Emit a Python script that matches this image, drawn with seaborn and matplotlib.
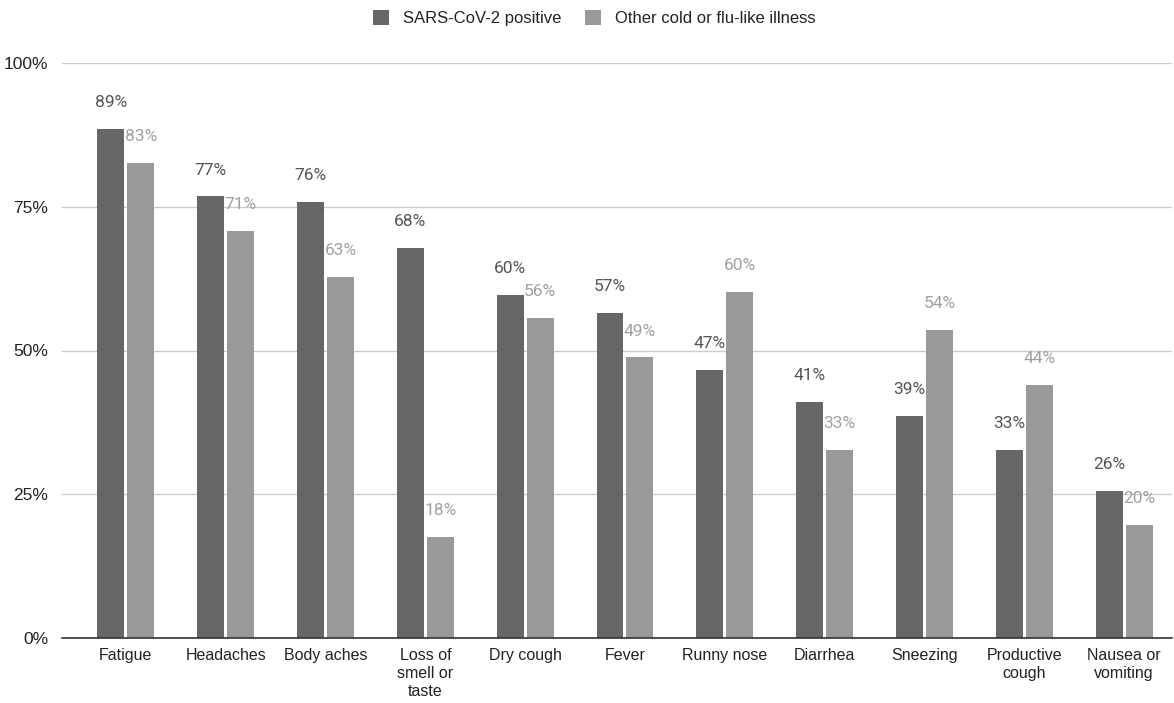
import matplotlib
matplotlib.use("Agg")
import matplotlib.pyplot as plt
import seaborn as sns
import pandas as pd
from matplotlib.patches import Patch

categories = ["Fatigue", "Headaches", "Body aches", "Loss of\nsmell or\ntaste", "Dry cough",
              "Fever", "Runny nose", "Diarrhea", "Sneezing", "Productive\ncough", "Nausea or\nvomiting"]
sars_values = [88.6, 76.8, 75.8, 67.8, 59.7, 56.6, 46.6, 41.1, 38.6, 32.7, 25.6]
other_values = [82.6, 70.8, 62.8, 17.6, 55.7, 48.8, 60.2, 32.7, 53.6, 44.0, 19.6]
series_names = ["SARS-CoV-2 positive", "Other cold or flu-like illness"]
y_ticks = [0, 25, 50, 75, 100]
y_tick_labels = ["0%", "25%", "50%", "75%", "100%"]

colors = ["#666666", "#999999"]
label_colors = ["#555555", "#a0a0a0"]

df = pd.DataFrame({
    "category": categories * 2,
    "value": sars_values + other_values,
    "series": [series_names[0]] * len(categories) + [series_names[1]] * len(categories),
})

sns.set_theme(style="white")
plt.rcParams["font.family"] = ["Liberation Sans", "DejaVu Sans"]

fig = plt.figure(figsize=(11.74, 7.03), dpi=100)
ax = fig.add_axes([62 / 1174, 65 / 703, 1110 / 1174, 575 / 703])

sns.barplot(data=df, x="category", y="value", hue="series", palette=colors,
            width=0.6, gap=0.1, ax=ax, legend=False, saturation=1, edgecolor="none")

ax.set_xlim(-0.64, 10.48)
ax.set_ylim(0, 100)
ax.set_yticks(y_ticks)
ax.set_yticklabels(y_tick_labels)
ax.set_xlabel("")
ax.set_ylabel("")
ax.grid(axis="y", color="#cccccc", linewidth=1)
ax.set_axisbelow(True)
for s in ["top", "right", "left"]:
    ax.spines[s].set_visible(False)
ax.spines["bottom"].set_color("#333333")
ax.spines["bottom"].set_linewidth(1.2)
ax.tick_params(axis="both", length=0, colors="#222222")
ax.tick_params(axis="x", labelsize=11.5, pad=7)
ax.tick_params(axis="y", labelsize=12.5, pad=10)
for t in ax.get_xticklabels():
    t.set_linespacing(1.25)

for i, cont in enumerate(ax.containers):
    for bar in cont:
        h = bar.get_height()
        ax.annotate(f"{h:.0f}%", (bar.get_x() + bar.get_width() / 2, h),
                    xytext=(0, 19), textcoords="offset points", ha="center", va="center",
                    fontsize=12.5, color=label_colors[i], family=["Roboto", "DejaVu Sans"])

handles = [Patch(facecolor=colors[0], edgecolor="none"), Patch(facecolor=colors[1], edgecolor="none")]
fig.legend(handles, series_names, loc="center", bbox_to_anchor=(594 / 1174, 1 - 18 / 703),
           ncol=2, frameon=False, fontsize=12, handlelength=1.0, handleheight=1.0,
           handletextpad=0.8, columnspacing=1.4, labelcolor="#222222")

fig.savefig("out.png", dpi=100)
